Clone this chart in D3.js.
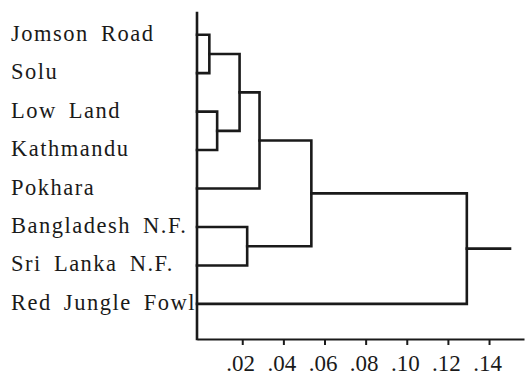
<!DOCTYPE html>
<html lang="en">
<head>
<meta charset="UTF-8" />
<title>Dendrogram</title>
<style>
  body { margin: 0; background: #fff; }
  svg { display: block; }
  .link { fill: none; stroke: #1a1a1a; stroke-width: 2.6; stroke-linecap: square; }
  .leaf-label { font-family: 'Liberation Serif', 'Times New Roman', serif; font-size: 22.5px; fill: #1a1a1a; letter-spacing: 1.5px; word-spacing: 5px; }
  .axis path, .axis line { stroke: #1a1a1a; stroke-width: 2; }
  .axis text { font-family: 'Liberation Serif', 'Times New Roman', serif; font-size: 23px; fill: #1a1a1a; }
</style>
<script src="https://d3js.org/d3.v7.min.js"></script>
</head>
<body>
<div id="chart"></div>
<script>
  const width = 526, height = 375;

  // leaves, top to bottom
  const leaves = ["Jomson Road", "Solu", "Low Land", "Kathmandu", "Pokhara",
                  "Bangladesh N.F.", "Sri Lanka N.F.", "Red Jungle Fowl"];

  // linkage: node ids 0-7 are leaves, merge k creates node 8+k
  const mergeLeft   = [0, 2, 8, 10, 5, 11, 13];
  const mergeRight  = [1, 3, 9, 4, 6, 12, 7];
  const mergeHeight = [0.004, 0.0078, 0.0187, 0.0284, 0.0224, 0.0536, 0.1292];
  const rootStem = 0.1502;

  const tickValues = [0.02, 0.04, 0.06, 0.08, 0.10, 0.12, 0.14];

  const svg = d3.select('#chart').append('svg')
    .attr('width', width)
    .attr('height', height);

  // x: distance, the axis sits a touch left of zero
  const x = d3.scaleLinear().domain([-0.002, 0.157]).range([197, 524]);
  const y = d3.scalePoint().domain(leaves).range([34.7, 303.9]);
  const axisY = 339;

  // node positions
  const nodeX = leaves.map(() => x.domain()[0]);
  const nodeY = leaves.map(d => y(d));
  mergeLeft.forEach((l, k) => {
    const r = mergeRight[k];
    nodeX.push(mergeHeight[k]);
    nodeY.push((nodeY[l] + nodeY[r]) / 2);
  });

  // bracket for each merge
  const links = mergeLeft.map((l, k) => {
    const r = mergeRight[k], h = mergeHeight[k];
    const p = d3.path();
    p.moveTo(x(nodeX[l]), nodeY[l]);
    p.lineTo(x(h), nodeY[l]);
    p.lineTo(x(h), nodeY[r]);
    p.lineTo(x(nodeX[r]), nodeY[r]);
    return p.toString();
  });

  svg.selectAll('.link')
    .data(links)
    .enter()
    .append('path')
    .attr('class', 'link')
    .attr('d', d => d);

  // root stem
  const root = nodeX.length - 1;
  svg.append('line')
    .attr('class', 'link')
    .attr('x1', x(nodeX[root])).attr('y1', nodeY[root])
    .attr('x2', x(rootStem)).attr('y2', nodeY[root]);

  // leaf labels
  svg.selectAll('.leaf-label')
    .data(leaves)
    .enter()
    .append('text')
    .attr('class', 'leaf-label')
    .attr('x', 11)
    .attr('y', d => y(d) + 6)
    .text(d => d);

  // vertical axis line
  svg.append('line')
    .attr('class', 'link')
    .attr('x1', x.range()[0]).attr('y1', 13)
    .attr('x2', x.range()[0]).attr('y2', axisY);

  // bottom axis
  const xAxis = d3.axisBottom(x)
    .tickValues(tickValues)
    .tickSize(6)
    .tickSizeOuter(0)
    .tickFormat(d => d3.format('.2f')(d).replace(/^0/, ''));

  const gx = svg.append('g')
    .attr('class', 'axis')
    .attr('transform', `translate(0,${axisY})`)
    .call(xAxis);

  gx.selectAll('text').attr('y', 32).attr('dy', 0).attr('dx', -2);
</script>
</body>
</html>
